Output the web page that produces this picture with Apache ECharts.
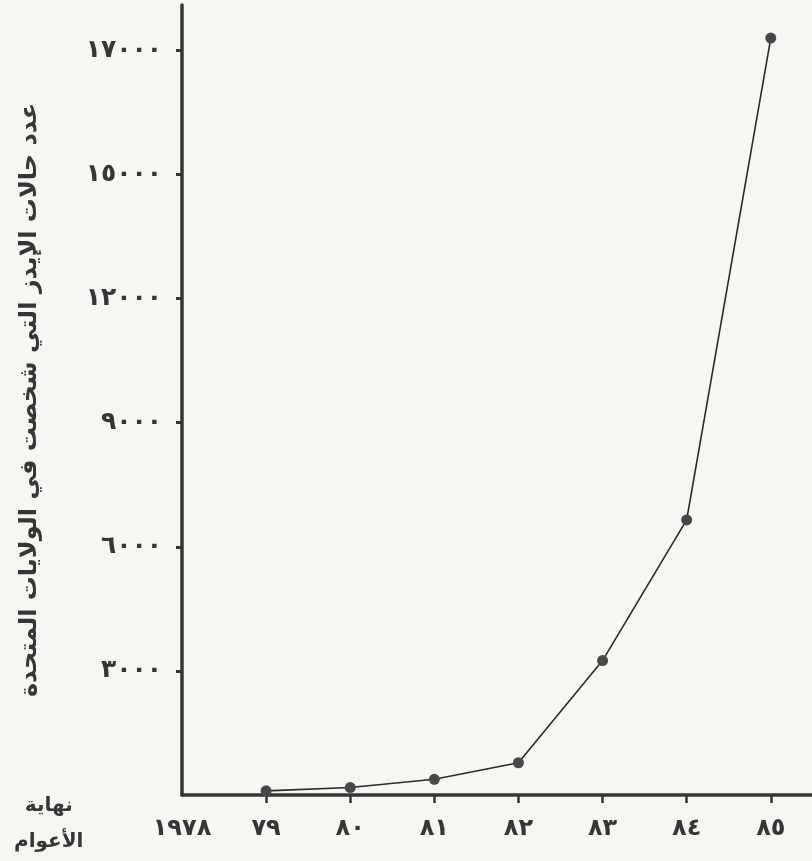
<!DOCTYPE html>
<html>
<head>
<meta charset="utf-8">
<script src="https://cdn.jsdelivr.net/npm/echarts@6/dist/echarts.min.js"></script>
<style>
html,body{margin:0;padding:0;background:#f6f6f3;}
#chart{width:812px;height:861px;}
</style>
</head>
<body>
<div id="chart"></div>
<script>
// Categories (years) and values
const years = [1978, 1979, 1980, 1981, 1982, 1983, 1984, 1985];
const yearLabels = ['١٩٧٨', '٧٩', '٨٠', '٨١', '٨٢', '٨٣', '٨٤', '٨٥'];
const pointYears = [1979, 1980, 1981, 1982, 1983, 1984, 1985];
const cases = [100, 180, 380, 780, 3250, 6650, 18300];
const yTickValues = [3000, 6000, 9000, 12000, 15000, 18000];
const yTickLabels = ['٣٠٠٠', '٦٠٠٠', '٩٠٠٠', '١٢٠٠٠', '١٥٠٠٠', '١٧٠٠٠'];
const yAxisTitle = 'عدد حالات الإيدز التي شخصت في الولايات المتحدة';
const xAxisTitle = ['نهاية', 'الأعوام'];

const ink = '#363636';
const font = 'DejaVu Sans';

const chart = echarts.init(document.getElementById('chart'), null, {renderer: 'canvas'});
chart.setOption({
  backgroundColor: '#f6f6f3',
  animation: false,
  grid: {left: 182, right: 0, top: 5, bottom: 66, containLabel: false},
  xAxis: {
    type: 'value',
    min: 1978,
    max: 1985.49,
    axisLine: {show: true, onZero: false, lineStyle: {color: ink, width: 3.5}},
    axisTick: {show: true, customValues: pointYears, length: 8, lineStyle: {color: ink, width: 2.5}},
    axisLabel: {
      customValues: years,
      margin: 22,
      color: ink,
      fontFamily: font,
      fontWeight: 'bold',
      fontSize: 24,
      formatter: function (v) { return yearLabels[years.indexOf(Math.round(v))] || ''; }
    },
    splitLine: {show: false}
  },
  yAxis: {
    type: 'value',
    min: 0,
    max: 19100,
    name: yAxisTitle,
    nameLocation: 'middle',
    nameRotate: 90,
    nameGap: 140,
    nameTextStyle: {color: ink, fontFamily: font, fontWeight: 'bold', fontSize: 24},
    axisLine: {show: true, lineStyle: {color: ink, width: 3.5}},
    axisTick: {show: true, customValues: yTickValues, length: 6, lineStyle: {color: ink, width: 3}},
    axisLabel: {
      customValues: yTickValues,
      margin: 20,
      color: ink,
      fontFamily: font,
      fontWeight: 'bold',
      fontSize: 25,
      formatter: function (v) { return yTickLabels[yTickValues.indexOf(Math.round(v))] || ''; }
    },
    splitLine: {show: false}
  },
  graphic: [{
    type: 'text',
    left: 14,
    top: 788,
    style: {
      text: xAxisTitle.join('\n'),
      fill: ink,
      font: 'bold 20px "DejaVu Sans"',
      textAlign: 'center',
      lineHeight: 36
    }
  }],
  series: [{
    type: 'line',
    data: pointYears.map(function (y, i) { return [y, cases[i]]; }),
    smooth: false,
    symbol: 'circle',
    symbolSize: 11,
    lineStyle: {color: '#2a2a2a', width: 1.6},
    itemStyle: {color: '#484848'},
    z: 3
  }]
});
</script>
</body>
</html>
